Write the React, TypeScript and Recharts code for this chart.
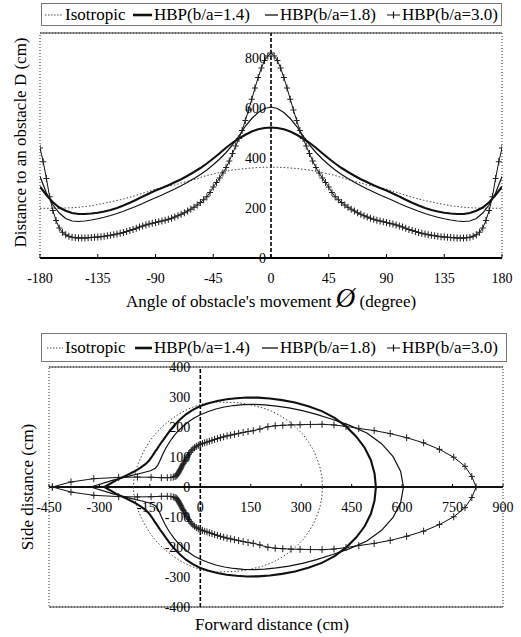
import React from "react";
import {
  CartesianGrid,
  Legend,
  Line,
  LineChart,
  ReferenceArea,
  ReferenceDot,
  ReferenceLine,
  XAxis,
  YAxis
} from "recharts";

const SERIF = '"Liberation Serif", "Times New Roman", Times, Tinos, "DejaVu Serif", "Noto Serif", serif';
const INK = "#111";

// Distance D (cm) for angles 0..180 deg.
// The plot is mirror-symmetric, so the negative side reuses the same readings.
const COARSE_STEP = 5;
const FINE_STEP = 2.5;

const isotropic = [
  363, 363, 362, 360, 358, 355, 352, 347, 342, 336, 330, 322, 314, 307, 300,
  292, 288, 282, 275, 267, 259, 251, 243, 236, 230, 224, 219, 214, 209, 206,
  203, 201, 200, 199, 199, 199, 199
];

const hbp14 = [
  522, 520, 515, 506, 493, 478, 461, 441, 419, 398, 378, 360, 344, 329, 315,
  303, 291, 280, 270, 258, 246, 233, 221, 210, 200, 192, 186, 181, 178, 176,
  176, 180, 189, 202, 223, 252, 285
];

const hbp18 = [
  604, 598, 582, 558, 527, 488, 452, 422, 396, 373, 352, 334, 318, 303, 289,
  276, 264, 252, 241, 230, 218, 207, 197, 187, 178, 170, 163, 157, 152, 148,
  146, 148, 158, 180, 213, 260, 326
];

// b/a = 3.0 is plotted every 2.5 deg (one plus marker per reading)
const hbp30 = [
  820, 808, 790, 760, 722, 680, 635, 592, 550, 510, 478, 448, 418, 388, 362,
  340, 320, 302, 284, 262, 245, 233, 222, 212, 203, 195, 188, 181, 175, 169,
  164, 159, 155, 151, 148, 145, 142, 139, 136, 132, 128, 124, 119, 114, 110,
  106, 102, 99, 96, 93, 91, 89, 87, 85, 84, 83, 82, 81, 80, 80,
  80, 81, 83, 87, 93, 103, 120, 150, 190, 245, 318, 385, 440
];

const angleTicks = [-180, -135, -90, -45, 0, 45, 90, 135, 180];
const distanceTicks = [0, 200, 400, 600, 800];
const forwardTicks = [-450, -300, -150, 0, 150, 300, 450, 600, 750, 900];
const sideTicks = [400, 300, 200, 100, 0, -100, -200, -300, -400];
const sideGrid = [-300, -200, -100, 100, 200, 300];

type Row = { phi: number; d: number; fx: number; sy: number };

// builds -180..180 rows; fx/sy are the same readings drawn in polar form (lower plot)
function buildRows(half: number[], step: number): Row[] {
  const rows: Row[] = [];
  const push = (phi: number, d: number) => {
    const rad = (phi * Math.PI) / 180;
    rows.push({ phi, d, fx: d * Math.cos(rad), sy: d * Math.sin(rad) });
  };
  for (let i = half.length - 1; i > 0; i--) push(-i * step, half[i]);
  for (let i = 0; i < half.length; i++) push(i * step, half[i]);
  return rows;
}

const series = [
  { name: "Isotropic", rows: buildRows(isotropic, COARSE_STEP), width: 1, dash: "1.5 2", color: "#444", icon: "dotted" },
  { name: "HBP(b/a=1.4)", rows: buildRows(hbp14, COARSE_STEP), width: 2.1, dash: undefined, color: INK, icon: "thick" },
  { name: "HBP(b/a=1.8)", rows: buildRows(hbp18, COARSE_STEP), width: 1.2, dash: undefined, color: INK, icon: "thin" },
  { name: "HBP(b/a=3.0)", rows: buildRows(hbp30, FINE_STEP), width: 1, dash: undefined, color: INK, icon: "plus" }
];

const PlusDot = (props: any) => {
  const { cx, cy } = props;
  if (cx == null || cy == null) return <g />;
  return (
    <path
      d={`M${cx - 3},${cy}H${cx + 3}M${cx},${cy - 3.5}V${cy + 3.5}`}
      stroke="#222"
      strokeWidth={1}
      fill="none"
    />
  );
};

const renderDot = (p: any) => <PlusDot key={`pd-${p.index}`} {...p} />;

function LegendIcon({ kind, w }: { kind: string; w: number }) {
  return (
    <svg width={w} height={12} style={{ marginRight: 2, flex: "none" }}>
      {kind === "dotted" && <line x1={0} y1={6} x2={w} y2={6} stroke="#444" strokeWidth={1} strokeDasharray="1.5 1.5" />}
      {kind === "thick" && <line x1={0} y1={6} x2={w} y2={6} stroke={INK} strokeWidth={2.6} />}
      {kind === "thin" && <line x1={0} y1={6} x2={w} y2={6} stroke={INK} strokeWidth={1.3} />}
      {kind === "plus" && (
        <path d={`M0,6H${w}M${w / 2},2.5V9.5`} stroke={INK} strokeWidth={1.2} fill="none" />
      )}
    </svg>
  );
}

function LegendBox({ lefts, widths }: { lefts: number[]; widths: number[] }) {
  return (
    <div
      style={{
        position: "relative",
        width: "100%",
        height: "100%",
        boxSizing: "border-box",
        border: "1px solid #777",
        fontFamily: SERIF,
        fontSize: 17,
        color: "#000"
      }}
    >
      {series.map((s, i) => (
        <div
          key={s.name}
          style={{
            position: "absolute",
            left: lefts[i],
            top: 0,
            bottom: 0,
            display: "flex",
            alignItems: "center",
            whiteSpace: "nowrap"
          }}
        >
          <LegendIcon kind={s.icon} w={widths[i]} />
          <span>{s.name}</span>
        </div>
      ))}
    </div>
  );
}

function VerticalTitle({ viewBox, text, dx = 0, dy = 0 }: any) {
  const vb = viewBox ?? { x: 0, y: 0, width: 0, height: 0 };
  const cx = vb.x + vb.width / 2 + dx;
  const cy = vb.y + vb.height / 2 + dy;
  return (
    <text
      x={cx}
      y={cy}
      transform={`rotate(-90 ${cx} ${cy})`}
      textAnchor="middle"
      dominantBaseline="central"
      fontFamily={SERIF}
      fontSize={17}
      fill="#000"
    >
      {text}
    </text>
  );
}

function HorizontalTitle({ viewBox, dy = 0, dx = 0, children }: any) {
  const vb = viewBox ?? { x: 0, y: 0, width: 0, height: 0 };
  return (
    <text
      x={vb.x + vb.width / 2 + dx}
      y={vb.y + dy}
      textAnchor="middle"
      fontFamily={SERIF}
      fontSize={17}
      fill="#000"
    >
      {children}
    </text>
  );
}

const tickLabel = (value: number, position: "left" | "bottom", offset: number) => ({
  value: String(value),
  position,
  offset,
  fill: "#000",
  fontSize: 14,
  fontFamily: SERIF
});

function AngleChart() {
  return (
    <LineChart width={521} height={320} margin={{ top: 33, right: 19, bottom: 0, left: 0 }}>
      <ReferenceArea x1={-180} x2={180} y1={0} y2={900} fill="none" fillOpacity={0} stroke="#333" strokeDasharray="1 2" />
      <CartesianGrid vertical={false} stroke="#333" />
      <XAxis
        type="number"
        dataKey="phi"
        domain={[-180, 180]}
        ticks={angleTicks}
        interval={0}
        allowDataOverflow
        height={62}
        axisLine={{ stroke: "#000", strokeWidth: 2 }}
        tickLine={{ stroke: "#000" }}
        tickSize={-4}
        tickMargin={19}
        tick={{ fill: "#000", fontSize: 14, fontFamily: SERIF }}
        label={
          <HorizontalTitle dy={49}>
            {"Angle of obstacle's movement "}
            <tspan fontSize={27} fontStyle="italic">Ø</tspan>
            {" (degree)"}
          </HorizontalTitle>
        }
      />
      <YAxis
        type="number"
        domain={[0, 900]}
        ticks={distanceTicks}
        allowDataOverflow
        width={40}
        tick={false}
        axisLine={false}
        tickLine={false}
        label={<VerticalTitle text="Distance to an obstacle D (cm)" dy={-3} />}
      />
      <ReferenceLine x={0} stroke="#000" strokeWidth={1.6} strokeDasharray="4 2" />
      {distanceTicks.map((v) => (
        <ReferenceDot key={`yl-${v}`} x={0} y={v} r={0} label={tickLabel(v, "left", 5)} />
      ))}
      {series.map((s) => (
        <Line
          key={s.name}
          data={s.rows}
          dataKey="d"
          name={s.name}
          type="linear"
          stroke={s.color}
          strokeWidth={s.width}
          strokeDasharray={s.dash}
          dot={s.icon === "plus" ? renderDot : false}
          activeDot={false}
          isAnimationActive={false}
        />
      ))}
      <Legend
        verticalAlign="middle"
        align="center"
        wrapperStyle={{ top: 3, left: 41, width: 461, height: 23 }}
        content={<LegendBox lefts={[3, 91, 223, 345]} widths={[18, 19, 13, 13]} />}
      />
    </LineChart>
  );
}

function PolarChart() {
  return (
    <LineChart width={521} height={317} margin={{ top: 47, right: 18, bottom: 0, left: 0 }}>
      <ReferenceArea x1={-450} x2={900} y1={-400} y2={400} fill="none" fillOpacity={0} stroke="#333" strokeDasharray="1 2" />
      <CartesianGrid vertical={false} stroke="#444" />
      <XAxis
        type="number"
        dataKey="fx"
        domain={[-450, 900]}
        allowDataOverflow
        height={30}
        tick={false}
        axisLine={false}
        tickLine={false}
        label={<HorizontalTitle dy={23} dx={-4}>Forward distance (cm)</HorizontalTitle>}
      />
      <YAxis
        type="number"
        domain={[-400, 400]}
        ticks={sideGrid}
        allowDataOverflow
        width={49}
        tick={false}
        axisLine={false}
        tickLine={false}
        label={<VerticalTitle text="Side distance (cm)" dx={3} />}
      />
      <ReferenceLine y={0} stroke="#111" strokeWidth={2} />
      <ReferenceLine x={0} stroke="#000" strokeWidth={1.6} strokeDasharray="4 2" />
      {forwardTicks.map((v) => (
        <ReferenceLine key={`tk-${v}`} segment={[{ x: v, y: 0 }, { x: v, y: 10 }]} stroke="#000" />
      ))}
      {forwardTicks.map((v) => (
        <ReferenceDot key={`xl-${v}`} x={v} y={0} r={0} label={tickLabel(v, "bottom", 15)} />
      ))}
      {sideTicks.map((v) => (
        <ReferenceDot key={`sl-${v}`} x={0} y={v} r={0} label={tickLabel(v, "left", 10)} />
      ))}
      {series.map((s) => (
        <Line
          key={s.name}
          data={s.rows}
          dataKey="sy"
          name={s.name}
          type="linear"
          stroke={s.color}
          strokeWidth={s.width}
          strokeDasharray={s.dash}
          dot={s.icon === "plus" ? renderDot : false}
          activeDot={false}
          isAnimationActive={false}
        />
      ))}
      <Legend
        verticalAlign="middle"
        align="center"
        wrapperStyle={{ top: 13, left: 41, width: 466, height: 29 }}
        content={<LegendBox lefts={[5, 93, 220, 345]} widths={[16, 17, 16, 13]} />}
      />
    </LineChart>
  );
}

export default function App() {
  return (
    <div style={{ position: "absolute", left: 0, top: 0, width: 521, height: 637, background: "#fff" }}>
      <div style={{ position: "absolute", left: 0, top: 0 }}>
        <AngleChart />
      </div>
      <div style={{ position: "absolute", left: 0, top: 320 }}>
        <PolarChart />
      </div>
    </div>
  );
}
